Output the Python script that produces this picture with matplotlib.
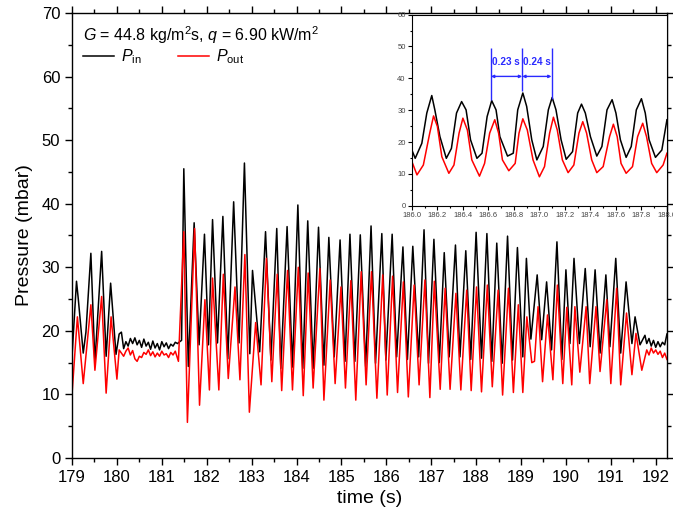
import numpy as np
import matplotlib
matplotlib.use('Agg')
import matplotlib.pyplot as plt
from matplotlib.ticker import MultipleLocator

plt.rcParams['font.family'] = ['Liberation Sans', 'DejaVu Sans']
plt.rcParams['mathtext.fontset'] = 'custom'
plt.rcParams['mathtext.rm'] = 'Liberation Sans'
plt.rcParams['mathtext.it'] = 'Liberation Sans:italic'

# hlavni graf - P_in (cerna)
t_in = [179.00, 179.10, 179.14, 179.25, 179.31, 179.42, 179.51, 179.66, 179.76, 179.86, 179.98,
        180.05, 180.10, 180.15, 180.20, 180.25, 180.30, 180.35, 180.40, 180.45, 180.50,
        180.55, 180.60, 180.65, 180.70, 180.75, 180.80, 180.85, 180.90, 180.95, 181.00,
        181.05, 181.10, 181.15, 181.20, 181.25, 181.30, 181.35, 181.40, 181.44,
        181.49, 181.59, 181.72, 181.83, 181.95, 182.04, 182.13, 182.24, 182.36, 182.47,
        182.60, 182.72, 182.84, 182.96, 183.02, 183.18, 183.31, 183.43, 183.56, 183.65,
        183.79, 183.91, 184.03, 184.14, 184.25, 184.37, 184.49, 184.61, 184.72, 184.84,
        184.97, 185.08, 185.19, 185.30, 185.42, 185.54, 185.66, 185.76, 185.90, 185.99,
        186.13, 186.23, 186.37, 186.47, 186.59, 186.72, 186.84, 186.94, 187.06, 187.18,
        187.29, 187.40, 187.54, 187.64, 187.77, 187.88, 188.00, 188.12, 188.24, 188.35,
        188.46, 188.58, 188.70, 188.81, 188.92, 189.04, 189.12, 189.22, 189.36, 189.46,
        189.57, 189.68, 189.80, 189.91, 190.00, 190.09, 190.18, 190.30, 190.43, 190.54,
        190.65, 190.76, 190.89, 190.98, 191.11, 191.22, 191.34, 191.47, 191.54, 191.65,
        191.76, 191.80, 191.85, 191.90, 191.95, 192.00, 192.05, 192.10, 192.15, 192.20, 192.25]
p_in = [16.0, 27.8, 25.0, 16.5, 19.8, 32.2, 15.0, 32.5, 16.0, 27.5, 16.3,
        19.5, 19.8, 17.2, 18.3, 17.6, 18.8, 18.0, 18.9, 17.8, 18.5,
        17.4, 18.7, 17.6, 18.2, 17.1, 18.4, 17.3, 18.0, 17.0, 18.3,
        17.5, 18.1, 17.2, 17.9, 17.6, 18.2, 18.0, 18.3, 18.5,
        45.5, 14.4, 37.0, 17.8, 35.2, 17.8, 37.5, 18.1, 38.0, 15.6,
        40.3, 18.1, 46.4, 16.4, 29.5, 16.7, 35.6, 15.4, 36.1, 14.1,
        36.4, 14.3, 39.8, 14.1, 37.3, 14.1, 36.3, 14.6, 34.7, 15.9,
        34.3, 15.2, 35.2, 15.2, 35.1, 14.4, 36.5, 14.9, 35.3, 15.4,
        35.2, 15.9, 33.2, 15.5, 33.3, 15.9, 35.9, 14.9, 34.4, 15.0,
        32.3, 15.9, 33.5, 15.9, 32.6, 15.5, 35.5, 15.7, 35.3, 15.2,
        33.8, 14.9, 34.9, 15.4, 33.1, 15.9, 31.4, 18.7, 28.8, 18.6,
        27.7, 17.0, 34.0, 15.5, 29.6, 18.0, 31.4, 18.0, 29.8, 17.5,
        29.6, 16.5, 28.8, 17.5, 31.4, 16.5, 27.7, 18.0, 22.2, 17.8,
        19.3, 18.0, 18.8, 17.6, 18.5, 17.4, 18.3, 17.5, 18.2, 17.8, 19.5]

# hlavni graf - P_out (cervena)
t_out = [179.00, 179.12, 179.25, 179.42, 179.51, 179.66, 179.76, 179.87, 180.00,
         180.05, 180.10, 180.15, 180.20, 180.25, 180.30, 180.35, 180.40, 180.45, 180.50,
         180.55, 180.60, 180.65, 180.70, 180.75, 180.80, 180.85, 180.90, 180.95, 181.00,
         181.05, 181.10, 181.15, 181.20, 181.25, 181.30, 181.37,
         181.49, 181.57, 181.73, 181.84, 181.96, 182.06, 182.13, 182.27, 182.37, 182.48,
         182.63, 182.74, 182.85, 182.95, 183.09, 183.21, 183.33, 183.45, 183.57, 183.67,
         183.80, 183.91, 184.04, 184.15, 184.26, 184.37, 184.52, 184.61, 184.75, 184.86,
         184.99, 185.09, 185.21, 185.32, 185.44, 185.55, 185.67, 185.79, 185.92, 186.02,
         186.14, 186.25, 186.38, 186.49, 186.62, 186.73, 186.86, 186.97, 187.07, 187.20,
         187.31, 187.42, 187.55, 187.66, 187.79, 187.89, 188.01, 188.12, 188.25, 188.36,
         188.49, 188.59, 188.72, 188.83, 188.94, 189.04, 189.13, 189.24, 189.30, 189.38,
         189.48, 189.59, 189.71, 189.81, 189.93, 190.02, 190.13, 190.20, 190.31, 190.45,
         190.53, 190.67, 190.76, 190.91, 191.00, 191.13, 191.22, 191.35, 191.47, 191.56,
         191.69, 191.80, 191.85, 191.90, 191.95, 192.00, 192.05, 192.10, 192.15, 192.20, 192.25]
p_out = [10.0, 22.2, 11.7, 24.1, 13.8, 25.4, 10.2, 22.2, 12.4,
         17.0, 16.5, 16.0, 16.8, 17.3, 16.2, 16.9, 15.6, 15.2, 16.0,
         15.8, 16.6, 16.3, 17.0, 16.1, 16.7, 15.9, 16.5, 16.0, 16.8,
         16.2, 16.4, 15.8, 16.6, 16.2, 16.8, 15.2,
         35.6, 5.6, 36.1, 8.3, 24.9, 10.7, 28.3, 10.7, 28.9, 12.5,
         26.9, 12.3, 32.0, 7.2, 21.3, 11.5, 31.4, 12.0, 28.9, 10.6,
         29.5, 10.7, 30.0, 9.8, 29.1, 11.0, 29.8, 9.1, 28.0, 11.7,
         26.9, 11.0, 27.9, 9.1, 29.3, 11.5, 29.3, 9.4, 28.8, 9.9,
         28.6, 10.3, 27.7, 9.6, 27.2, 11.5, 28.0, 9.5, 27.8, 10.8,
         26.7, 10.8, 25.9, 10.7, 26.4, 10.6, 26.9, 10.4, 27.2, 11.2,
         26.4, 9.9, 26.7, 10.3, 24.1, 10.3, 22.2, 15.0, 15.2, 23.8,
         12.0, 22.5, 12.3, 27.2, 11.7, 23.7, 11.5, 23.8, 13.5, 23.8,
         11.7, 23.8, 13.6, 24.9, 11.7, 26.7, 11.5, 22.8, 13.1, 19.6,
         13.8, 17.0, 16.2, 17.3, 16.5, 17.0, 16.3, 16.8, 15.8, 16.5, 15.5]

# vyrez 186 - 188 s
ti_in = [186.00, 186.026, 186.078, 186.117, 186.156, 186.18, 186.22, 186.27, 186.31, 186.35,
         186.39, 186.425, 186.46, 186.51, 186.55, 186.59, 186.626, 186.66, 186.69, 186.75,
         186.795, 186.83, 186.87, 186.90, 186.94, 186.98, 187.03, 187.07, 187.10, 187.13,
         187.17, 187.21, 187.26, 187.30, 187.33, 187.36, 187.40, 187.45, 187.49, 187.53,
         187.57, 187.60, 187.635, 187.68, 187.72, 187.76, 187.80, 187.83, 187.86, 187.91,
         187.96, 188.00]
pi_in = [17.5, 14.9, 19.6, 29.1, 34.6, 30.1, 21.7, 14.9, 18.0, 29.1,
         32.7, 30.1, 20.7, 14.9, 16.5, 28.0, 33.0, 30.1, 21.7, 15.6,
         16.5, 30.1, 35.4, 31.2, 20.7, 14.4, 18.6, 30.1, 34.0, 30.1,
         20.7, 14.6, 17.0, 29.1, 31.9, 29.1, 21.7, 15.6, 18.6, 30.1,
         33.3, 29.1, 20.7, 15.2, 18.6, 30.1, 33.6, 29.1, 20.7, 15.2,
         17.5, 27.0]
ti_out = [186.00, 186.04, 186.09, 186.14, 186.17, 186.20, 186.235, 186.29, 186.33, 186.37,
          186.40, 186.435, 186.47, 186.53, 186.57, 186.61, 186.65, 186.68, 186.71, 186.76,
          186.81, 186.84, 186.87, 186.905, 186.95, 187.00, 187.04, 187.08, 187.11, 187.14,
          187.18, 187.225, 187.27, 187.31, 187.34, 187.37, 187.41, 187.45, 187.50, 187.55,
          187.58, 187.61, 187.64, 187.68, 187.73, 187.77, 187.81, 187.84, 187.88, 187.92,
          187.97, 188.00]
pi_out = [13.9, 9.7, 12.8, 22.8, 28.2, 24.9, 15.4, 10.2, 12.8, 22.8,
          27.5, 23.8, 14.4, 9.3, 13.3, 22.8, 27.0, 22.8, 14.4, 11.0,
          13.3, 22.8, 27.3, 23.8, 14.4, 9.1, 12.3, 22.8, 27.8, 23.8,
          14.4, 10.4, 12.8, 22.8, 26.4, 22.8, 14.4, 10.4, 12.3, 21.7,
          25.6, 21.7, 13.3, 10.2, 12.3, 21.7, 25.9, 21.7, 13.3, 10.4,
          12.8, 16.5]

# periody
t_marks = [186.62, 186.865, 187.095]
mark_low = [33.3, 35.9, 33.5]
periods = ['0.23 s', '0.24 s']

blue = '#2a2aff'

fig = plt.figure(figsize=(6.73, 5.21), dpi=100)
ax = fig.add_axes([0.107, 0.121, 0.884, 0.854])

l1, = ax.plot(t_in, p_in, color='black', lw=1.1)
l2, = ax.plot(t_out, p_out, color='red', lw=1.1)

ax.set_xlim(179, 192.25)
ax.set_ylim(0, 70)
ax.xaxis.set_major_locator(MultipleLocator(1))
ax.xaxis.set_minor_locator(MultipleLocator(0.5))
ax.yaxis.set_major_locator(MultipleLocator(10))
ax.yaxis.set_minor_locator(MultipleLocator(5))
ax.tick_params(which='both', direction='out', top=True, right=True, labelsize=12, width=1)
ax.tick_params(which='major', length=5)
ax.tick_params(which='minor', length=3)
for s in ax.spines.values():
    s.set_linewidth(1.0)
ax.set_xlabel('time (s)', fontsize=14, labelpad=4)
ax.set_ylabel('Pressure (mbar)', fontsize=14, labelpad=6)

leg = ax.legend([l1, l2], [r'$P_{\rm in}$', r'$P_{\rm out}$'], ncol=2, frameon=False,
                loc='upper left', bbox_to_anchor=(0.0, 1.0), fontsize=11.5,
                handlelength=1.95, columnspacing=2.3, handletextpad=0.4,
                title=r'$G$ = 44.8 kg/m$^2$s, $q$ = 6.90 kW/m$^2$', title_fontsize=11.5,
                alignment='left', borderaxespad=0.3, labelspacing=0.1)

# vlozeny graf
ins = fig.add_axes([0.612, 0.605, 0.379, 0.367])
ins.plot(ti_in, pi_in, color='black', lw=1.1)
ins.plot(ti_out, pi_out, color='red', lw=1.1)
ins.set_xlim(186.0, 188.0)
ins.set_ylim(0, 60)
ins.xaxis.set_major_locator(MultipleLocator(0.2))
ins.xaxis.set_minor_locator(MultipleLocator(0.1))
ins.yaxis.set_major_locator(MultipleLocator(10))
ins.yaxis.set_minor_locator(MultipleLocator(5))
ins.xaxis.set_major_formatter(plt.FormatStrFormatter('%.1f'))
ins.tick_params(which='both', direction='out', labelsize=5.5, labelcolor='#444444', width=0.8)
ins.tick_params(which='major', length=3)
ins.tick_params(which='minor', length=1.5)
ins.tick_params(axis='both', pad=1.5)

ins.vlines(t_marks, mark_low, 49.5, color=blue, lw=1.0)
for i in range(2):
    ins.annotate('', xy=(t_marks[i], 40.6), xytext=(t_marks[i + 1], 40.6),
                 arrowprops=dict(arrowstyle='<|-|>', color=blue, lw=1.0,
                                 mutation_scale=4, shrinkA=0, shrinkB=0))
    ins.text(t_marks[i] + 0.01, 45, periods[i], color=blue, fontsize=7.2,
             fontweight='bold', ha='left', va='center')

fig.savefig('out.png', dpi=100)
